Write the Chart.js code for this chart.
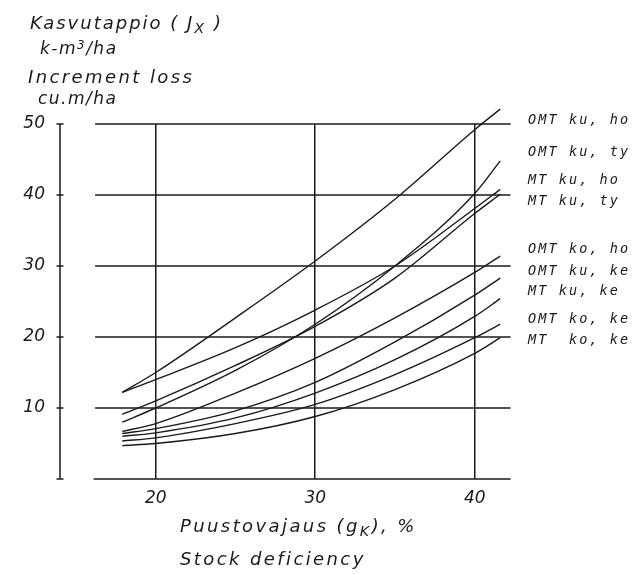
<!DOCTYPE html>
<html><head><meta charset="utf-8">
<script src="https://cdn.jsdelivr.net/npm/chart.js@4"></script>
<style>
html,body{margin:0;padding:0;background:#fff;}
#wrap{position:relative;width:636px;height:575px;overflow:hidden;}
canvas{position:absolute;left:0;top:0;}
.t{position:absolute;font-family:"DejaVu Sans";font-style:italic;color:#1a1a1a;white-space:pre;line-height:1;}
.big{font-size:18px;letter-spacing:2px;}
.lab{font-family:"DejaVu Sans Mono";font-size:13.5px;letter-spacing:2.1px;}
sub{font-size:0.8em;vertical-align:-0.3em;line-height:0;}
sup{font-size:0.7em;vertical-align:0.45em;line-height:0;}
</style></head><body>
<div id="wrap">
<canvas id="c" width="636" height="575"></canvas>
<div class="t big" style="left:30px;top:14px;">Kasvutappio ( J<sub>X</sub> )</div>
<div class="t big" style="left:40px;top:40px;font-size:17px;letter-spacing:1.5px;">k-m<sup>3</sup>/ha</div>
<div class="t big" style="left:28px;top:68px;letter-spacing:2.4px;">Increment loss</div>
<div class="t big" style="left:38px;top:90px;font-size:17px;letter-spacing:1.5px;">cu.m/ha</div>
<div class="t big" style="left:180px;top:517px;letter-spacing:2.4px;">Puustovajaus (g<sub>K</sub>), %</div>
<div class="t big" style="left:180px;top:550px;letter-spacing:2.4px;">Stock deficiency</div>
<div class="t lab" style="left:528px;top:113px;">OMT ku, ho</div>
<div class="t lab" style="left:528px;top:145px;">OMT ku, ty</div>
<div class="t lab" style="left:528px;top:173px;">MT ku, ho</div>
<div class="t lab" style="left:528px;top:194px;">MT ku, ty</div>
<div class="t lab" style="left:528px;top:242px;">OMT ko, ho</div>
<div class="t lab" style="left:528px;top:264px;">OMT ku, ke</div>
<div class="t lab" style="left:528px;top:284px;">MT ku, ke</div>
<div class="t lab" style="left:528px;top:312px;">OMT ko, ke</div>
<div class="t lab" style="left:528px;top:333px;">MT  ko, ke</div>
</div>
<script>
// ---- data ----
const xPts    = [17.9, 20, 25, 30, 35, 40, 41.6];
const omtKuHo = [12.2, 15.0, 22.7, 30.7, 39.4, 49.2, 52.1];
const omtKuTy = [8.0, 10.0, 15.3, 21.8, 30.0, 40.2, 44.8];
const mtKuHo  = [12.2, 14.0, 18.5, 23.8, 30.0, 38.1, 40.8];
const mtKuTy  = [9.1, 11.0, 16.0, 21.5, 28.3, 37.4, 40.1];
const omtKoHo = [6.7, 7.8, 12.1, 17.0, 22.7, 29.1, 31.4];
const omtKuKe = [6.4, 7.1, 9.6, 13.6, 19.3, 25.9, 28.3];
const mtKuKe  = [6.0, 6.5, 8.6, 12.1, 16.8, 22.9, 25.4];
const omtKoKe = [5.35, 5.8, 7.8, 10.5, 14.7, 19.9, 21.8];
const mtKoKe  = [4.7, 5.0, 6.4, 8.8, 12.6, 17.7, 19.9];
const xTicks  = [20, 30, 40];
const yTicks  = [0, 10, 20, 30, 40, 50];
const seriesNames = ['OMT ku, ho','OMT ku, ty','MT ku, ho','MT ku, ty','OMT ko, ho','OMT ku, ke','MT ku, ke','OMT ko, ke','MT ko, ke'];
const seriesVals  = [omtKuHo, omtKuTy, mtKuHo, mtKuTy, omtKoHo, omtKuKe, mtKuKe, omtKoKe, mtKoKe];

const INK = '#1a1a1a';
const GRID_START = 16.2;   // where horizontal grid lines begin (x value)
const AXIS_START = 16.1;   // where the x axis line begins

const manualGrid = {
  id: 'manualGrid',
  beforeDatasetsDraw(chart) {
    const {ctx, chartArea, scales: {x, y}} = chart;
    ctx.save();
    ctx.strokeStyle = INK;
    ctx.lineWidth = 1.5;
    const gx0 = x.getPixelForValue(GRID_START), gx1 = chartArea.right;
    yTicks.forEach(v => {
      if (v === 0) return;
      const py = y.getPixelForValue(v);
      ctx.beginPath(); ctx.moveTo(gx0, py); ctx.lineTo(gx1, py); ctx.stroke();
    });
    const py0 = y.getPixelForValue(0);
    ctx.beginPath(); ctx.moveTo(x.getPixelForValue(AXIS_START), py0); ctx.lineTo(gx1, py0); ctx.stroke();
    const px = chartArea.left;
    ctx.beginPath(); ctx.moveTo(px, y.getPixelForValue(yTicks[yTicks.length-1])); ctx.lineTo(px, py0); ctx.stroke();
    yTicks.forEach(v => {
      const py = y.getPixelForValue(v);
      ctx.beginPath(); ctx.moveTo(px - 3.5, py); ctx.lineTo(px + 3.5, py); ctx.stroke();
    });
    ctx.restore();
  }
};

const datasets = seriesVals.map((vals, i) => ({
  label: seriesNames[i],
  data: xPts.map((xv, j) => ({x: xv, y: vals[j]})),
  borderColor: INK,
  borderWidth: 1.4,
  pointRadius: 0,
  fill: false,
  cubicInterpolationMode: 'monotone',
  clip: false
}));

const tickFont = {family: 'DejaVu Sans', style: 'italic', size: 17};

new Chart(document.getElementById('c'), {
  type: 'line',
  data: {datasets},
  plugins: [manualGrid],
  options: {
    responsive: false,
    animation: false,
    devicePixelRatio: 1,
    layout: {padding: {left: 0, top: 124, right: 125.4, bottom: 0}},
    plugins: {legend: {display: false}, tooltip: {enabled: false}, title: {display: false}},
    scales: {
      x: {
        type: 'linear', min: 14, max: 42.25,
        afterBuildTicks: s => { s.ticks = xTicks.map(v => ({value: v})); },
        afterFit: s => { s.height = 96; },
        grid: {color: INK, lineWidth: 1.5, drawTicks: false, drawOnChartArea: true},
        border: {display: false},
        ticks: {color: INK, font: tickFont, padding: 9, callback: v => String(v)}
      },
      y: {
        type: 'linear', min: 0, max: 50,
        afterBuildTicks: s => { s.ticks = yTicks.map(v => ({value: v})); },
        afterFit: s => { s.width = 60; },
        grid: {display: false, drawTicks: false},
        border: {display: false},
        ticks: {color: INK, font: tickFont, padding: 15, callback: v => v === 0 ? '' : String(v)}
      }
    }
  }
});
</script>
</body></html>
